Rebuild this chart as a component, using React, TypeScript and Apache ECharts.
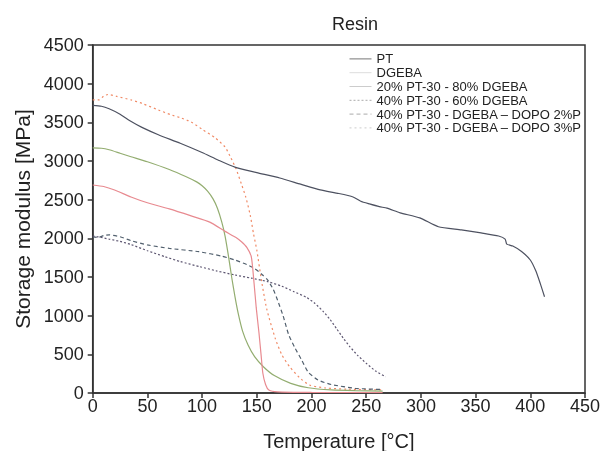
import React, { useEffect, useRef } from "react";
import * as echarts from "echarts";

const seriesNames = [
  "PT",
  "DGEBA",
  "20% PT-30 - 80% DGEBA",
  "40% PT-30 - 60% DGEBA",
  "40% PT-30 - DGEBA – DOPO 2%P",
  "40% PT-30 - DGEBA – DOPO 3%P",
];

const ptData = [
  [0, 3720], [8, 3708], [15, 3675], [25, 3605], [34, 3520], [45, 3435], [60, 3340], [80, 3230],
  [100, 3110], [115, 3010], [130, 2920], [150, 2850], [171, 2780], [190, 2700], [208, 2626],
  [225, 2580], [238, 2535], [245, 2480], [253, 2445], [262, 2410], [269, 2390], [281, 2330],
  [299, 2264], [316, 2150], [337, 2110], [355, 2070], [371, 2030], [377, 1990], [378.5, 1925],
  [384, 1900], [392, 1830], [400, 1720], [405, 1580], [409, 1420], [413, 1245],
];

const dgebaData = [
  [0, 2690], [10, 2670], [20, 2625], [35, 2535], [50, 2460], [70, 2380], [90, 2290], [107, 2210],
  [121, 2090], [131, 2010], [136, 1955], [141, 1880], [145, 1760], [147.5, 1420], [149.5, 1100],
  [152, 776], [154, 480], [155.5, 259], [158, 110], [161, 39], [169, 15], [200, 8], [265, 6],
];

const pt20Data = [
  [0, 3170], [8, 3165], [15, 3145], [25, 3100], [35, 3055], [50, 2990], [70, 2890], [85, 2800],
  [95, 2730], [100, 2680], [105, 2610], [110, 2510], [114, 2390], [118, 2210], [121, 2030],
  [124, 1780], [127, 1500], [130, 1250], [133, 1030], [137, 800], [142, 620], [148, 470],
  [156, 340], [166, 225], [181, 125], [197, 68], [218, 40], [240, 30], [265, 25],
];

const pt40Data = [
  [0, 2030], [5, 2020], [15, 1990], [25, 1960], [35, 1920], [50, 1840], [66, 1763], [80, 1700],
  [98, 1633], [113, 1580], [130, 1526], [145, 1485], [160, 1440], [173, 1380], [184, 1310],
  [195, 1240], [203, 1160], [211, 1050], [217, 950], [223, 830], [229, 710], [235, 600],
  [242, 490], [250, 384], [259, 280], [268, 210],
];

const dopo2Data = [
  [0, 2020], [5, 2010], [10, 2035], [15, 2045], [25, 2020], [35, 1970], [50, 1915], [70, 1870],
  [97, 1827], [118, 1770], [130, 1720], [141, 1660], [148, 1610], [155, 1530], [160, 1460],
  [165, 1340], [169, 1200], [174, 1000], [179, 760], [185, 580], [191, 427], [197, 270],
  [206, 168], [218, 110], [240, 60], [265, 45],
];

const dopo3Data = [
  [0, 3790], [6, 3790], [10, 3840], [14, 3860], [22, 3835], [35, 3790], [45, 3745], [60, 3660],
  [71, 3600], [80, 3560], [90, 3505], [101, 3400], [112, 3300], [121, 3180], [126, 3050],
  [131, 2900], [136, 2700], [140, 2530], [144, 2300], [147, 2060], [150, 1849], [154, 1480],
  [159, 1090], [167, 700], [173, 490], [180, 340], [189, 200], [198, 103], [213, 65],
  [232, 50], [265, 40],
];

const xTicks = { min: 0, max: 450, interval: 50 };
const yTicks = { min: 0, max: 4500, interval: 500 };

const colors = ["#4d5160", "#e88a90", "#93ad70", "#5c5570", "#52606e", "#f08a66"];
const lineTypes: any[] = ["solid", "solid", "solid", [2, 2], [4, 3], [2, 3]];
const legendColors = ["#777", "#ddd", "#ccc", "#aaa", "#aaa", "#ccc"];

export default function App() {
  const ref = useRef<HTMLDivElement>(null);
  useEffect(() => {
    if (!ref.current) return;
    const chart = echarts.init(ref.current, undefined, { renderer: "svg" });
    const datas = [ptData, dgebaData, pt20Data, pt40Data, dopo2Data, dopo3Data];
    const font = "Liberation Sans, Arial, sans-serif";
    chart.setOption({
      animation: false,
      title: {
        text: "Resin",
        left: 327,
        top: 10,
        textStyle: { fontFamily: font, fontSize: 18, fontWeight: "normal", color: "#222" },
      },
      legend: {
        orient: "vertical",
        left: 344,
        top: 47,
        itemWidth: 22,
        itemHeight: 10,
        itemGap: 0,
        itemStyle: { opacity: 0 },
        textStyle: { fontFamily: font, fontSize: 13, lineHeight: 13.8, color: "#222" },
        data: seriesNames.map((n, i) => ({
          name: n,
          itemStyle: { opacity: 0 },
          lineStyle: { color: legendColors[i], type: lineTypes[i], width: 1 },
        })),
      },
      grid: {
        left: 92.7,
        right: 27,
        top: 45,
        bottom: 58,
        show: true,
        borderColor: "#333",
        borderWidth: 1.5,
        containLabel: false,
        outerBoundsMode: "none",
      },
      xAxis: {
        type: "value",
        min: xTicks.min,
        max: xTicks.max,
        interval: xTicks.interval,
        name: "Temperature [°C]",
        nameLocation: "middle",
        nameGap: 38,
        nameTextStyle: { fontFamily: font, fontSize: 20, color: "#222" },
        axisLine: { show: true, lineStyle: { color: "#333", width: 1.5 } },
        axisTick: { show: true, length: 5, lineStyle: { color: "#333", width: 1.5 } },
        axisLabel: { fontFamily: font, fontSize: 18, color: "#222", margin: 4, formatter: (v: number) => String(v) },
        splitLine: { show: false },
      },
      yAxis: {
        type: "value",
        min: yTicks.min,
        max: yTicks.max,
        interval: yTicks.interval,
        name: "Storage modulus [MPa]",
        nameLocation: "middle",
        nameGap: 60,
        nameTextStyle: { fontFamily: font, fontSize: 21, color: "#222" },
        axisLine: { show: true, lineStyle: { color: "#333", width: 1.5 } },
        axisTick: { show: true, length: 5, lineStyle: { color: "#333", width: 1.5 } },
        axisLabel: { fontFamily: font, fontSize: 18, color: "#222", margin: 9, formatter: (v: number) => String(v) },
        splitLine: { show: false },
      },
      series: seriesNames.map((n, i) => ({
        name: n,
        type: "line",
        data: datas[i],
        symbol: "none",
        showSymbol: false,
        smooth: 0.2,
        color: colors[i],
        lineStyle: { color: colors[i], width: 1.2, type: lineTypes[i] },
        z: 6 - i,
      })),
    });
    return () => chart.dispose();
  }, []);
  return (
    <div
      ref={ref}
      style={{ position: "fixed", left: 0, top: 0, width: 612, height: 451 }}
    />
  );
}
